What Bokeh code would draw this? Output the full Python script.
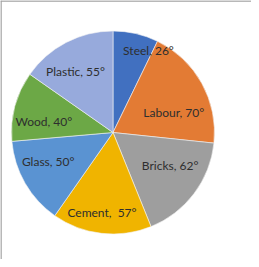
import numpy as np
from bokeh.plotting import figure
from bokeh.models import ColumnDataSource, Range1d, Span
from bokeh.core.properties import value
from bokeh.embed import file_html
from bokeh.resources import INLINE

# data
items = ["Steel", "Labour", "Bricks", "Cement", "Glass", "Wood", "Plastic"]
degrees = [26, 70, 62, 57, 50, 40, 55]
label_text = ["Steel, 26°", "Labour, 70°", "Bricks, 62°", "Cement,\u00a0 57°",
              "Glass, 50°", "Wood, 40°", "Plastic, 55°"]

# style / layout
colors = ["#4170C0", "#E37B34", "#9E9E9E", "#F0B400", "#5A93D2", "#6CA846", "#97AADC"]
label_angle_nudge = [10.4, 10.8, -6.9, 1.3, 5.8, -6.3, -4.1]   # degrees off the bisector
label_radius_frac = [0.88, 0.63, 0.65, 0.80, 0.70, 0.69, 0.705]

W, H = 251, 259
cx, cy, R = 112.5, 127.0, 101.5

deg = np.array(degrees, dtype=float)
cum_end = np.cumsum(deg)
cum_start = cum_end - deg
start = np.radians(90 - cum_end)
end = np.radians(90 - cum_start)
mid_cw = (cum_start + cum_end) / 2 + np.array(label_angle_nudge)
mid = np.radians(90 - mid_cw)
lr = R * np.array(label_radius_frac)
lx = cx + lr * np.cos(mid)
ly = cy + lr * np.sin(mid)

src = ColumnDataSource(dict(start=start, end=end, color=colors,
                            lx=lx, ly=ly, text=label_text))

p = figure(width=W, height=H, output_backend="svg", toolbar_location=None,
           x_range=Range1d(0, W), y_range=Range1d(0, H), min_border=0)
p.axis.visible = False
p.grid.visible = False
p.outline_line_color = None
p.background_fill_color = "white"

p.wedge(x=cx, y=cy, radius=R, start_angle="start", end_angle="end",
        fill_color="color", line_color="#f4f4f4", line_width=0.6, source=src)
p.text(x="lx", y="ly", text="text", source=src, text_align="center",
       text_baseline="middle", text_font=value("Lato"), text_font_size="12px",
       text_color="#2e2e2e")

p.add_layout(Span(location=0.5, dimension="height", line_color="#a0a0a0", line_width=1.5))
p.add_layout(Span(location=H - 0.5, dimension="width", line_color="#a0a0a0", line_width=1.5))

open("out.html", "w").write(file_html(p, INLINE))
